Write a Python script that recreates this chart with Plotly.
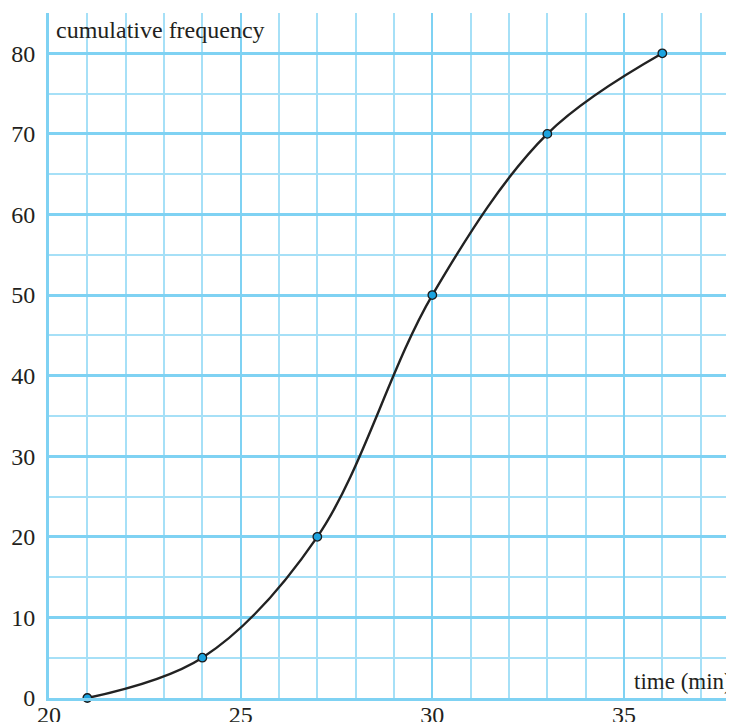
import plotly.graph_objects as go

time_min = [21, 24, 27, 30, 33, 36]
cum_freq = [0, 5, 20, 50, 70, 80]
x_ticks = [20, 25, 30, 35]
y_ticks = [0, 10, 20, 30, 40, 50, 60, 70, 80]

grid_major = "#7fd2f3"
grid_minor = "#a6e0f7"
serif = "Liberation Serif, Times New Roman, serif"

fig = go.Figure()
fig.add_trace(go.Scatter(
    x=time_min, y=cum_freq, mode="lines+markers",
    line=dict(color="#222222", width=2.4, shape="spline", smoothing=1.0),
    marker=dict(size=8.5, color="#1ba3df", line=dict(color="#1a1a1a", width=1.3)),
    hoverinfo="skip", showlegend=False, cliponaxis=False,
))

# page body has an 8px default margin, so the figure is sized to fit the window
fig.update_layout(
    width=726, height=714,
    margin=dict(l=41, r=0, t=5, b=24, autoexpand=False),
    paper_bgcolor="white", plot_bgcolor="white",
    font=dict(family=serif, size=24, color="#231f20"),
    xaxis=dict(
        range=[20, 37.87], tickvals=x_ticks, ticktext=[str(v) for v in x_ticks],
        showgrid=True, gridcolor=grid_major, gridwidth=2,
        minor=dict(dtick=1, tick0=20, showgrid=True, gridcolor=grid_minor, gridwidth=1.6),
        showline=True, linecolor=grid_major, linewidth=3,
        zeroline=False, ticks="", ticklabelstandoff=-7, automargin=False,
        tickfont=dict(family=serif, size=24, color="#231f20"),
    ),
    yaxis=dict(
        range=[0, 85], tickvals=y_ticks, ticktext=[str(v) for v in y_ticks],
        showgrid=True, gridcolor=grid_major, gridwidth=3,
        minor=dict(dtick=5, tick0=0, showgrid=True, gridcolor=grid_minor, gridwidth=2),
        showline=True, linecolor=grid_major, linewidth=3,
        zeroline=False, ticks="", ticklabelstandoff=6, automargin=False,
        tickfont=dict(family=serif, size=24, color="#231f20"),
    ),
    annotations=[
        dict(text="cumulative frequency", xref="paper", yref="paper",
             x=0.008, y=0.997, xanchor="left", yanchor="top", showarrow=False,
             font=dict(family=serif, size=24, color="#231f20")),
        dict(text="time (min)", xref="paper", yref="paper",
             x=1.0, y=0.003, xanchor="right", yanchor="bottom", showarrow=False,
             font=dict(family=serif, size=23, color="#231f20")),
    ],
)

fig.write_html("out.html")
